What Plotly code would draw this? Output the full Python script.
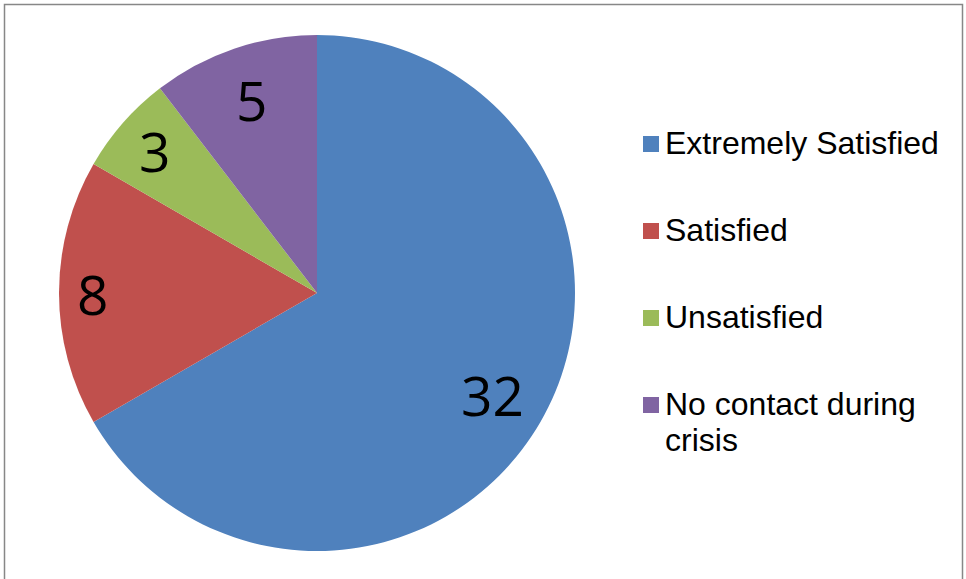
import math
import plotly.graph_objects as go

labels = ["Extremely Satisfied", "Satisfied", "Unsatisfied", "No contact during crisis"]
legend_lines = [["Extremely Satisfied"], ["Satisfied"], ["Unsatisfied"], ["No contact during", "crisis"]]
values = [32, 8, 3, 5]
colors = ["#4F81BD", "#C0504D", "#9BBB59", "#8064A2"]

W, H = 966, 579
CX, CY, R = 317, 293, 258
label_radius = [0.785, 0.87, 0.84, 0.79]

fig = go.Figure()
fig.add_trace(go.Pie(
    labels=labels, values=values, sort=False, direction="clockwise", rotation=0,
    marker=dict(colors=colors, line=dict(width=0)),
    textinfo="none", hoverinfo="label+value", showlegend=False,
    domain=dict(x=[(CX - R) / W, (CX + R) / W], y=[1 - (CY + R) / H, 1 - (CY - R) / H]),
))

annotations = []
shapes = []
total = sum(values)
cum = 0
for v, f in zip(values, label_radius):
    mid = (cum + v / 2) / total * 2 * math.pi
    cum += v
    px = CX + R * f * math.sin(mid)
    py = CY - R * f * math.cos(mid)
    annotations.append(dict(x=px / W, y=1 - py / H, xref="paper", yref="paper",
                            text=str(v), showarrow=False, xanchor="center", yanchor="middle",
                            font=dict(family="Open Sans", size=55, color="#000000")))

row_y0, row_gap, line_gap = 143, 87, 36
for i, (lines, c) in enumerate(zip(legend_lines, colors)):
    ry = row_y0 + i * row_gap
    shapes.append(dict(type="rect", xref="paper", yref="paper",
                       x0=643 / W, x1=659 / W, y0=1 - (ry + 9) / H, y1=1 - (ry - 7) / H,
                       fillcolor=c, line=dict(width=0)))
    for j, t in enumerate(lines):
        annotations.append(dict(x=663 / W, y=1 - (ry + j * line_gap) / H, xref="paper", yref="paper",
                                text=t, showarrow=False, xanchor="left", yanchor="middle",
                                font=dict(family="Liberation Sans", size=32, color="#000000")))

shapes.append(dict(type="rect", xref="paper", yref="paper",
                   x0=4.5 / W, x1=962.5 / W, y0=-0.02, y1=1 - 4.5 / H,
                   line=dict(color="#878787", width=1.5), fillcolor="rgba(0,0,0,0)"))

fig.update_layout(width=W, height=H, margin=dict(l=0, r=0, t=0, b=0),
                  paper_bgcolor="white", plot_bgcolor="white",
                  annotations=annotations, shapes=shapes)
fig.write_html("out.html")
